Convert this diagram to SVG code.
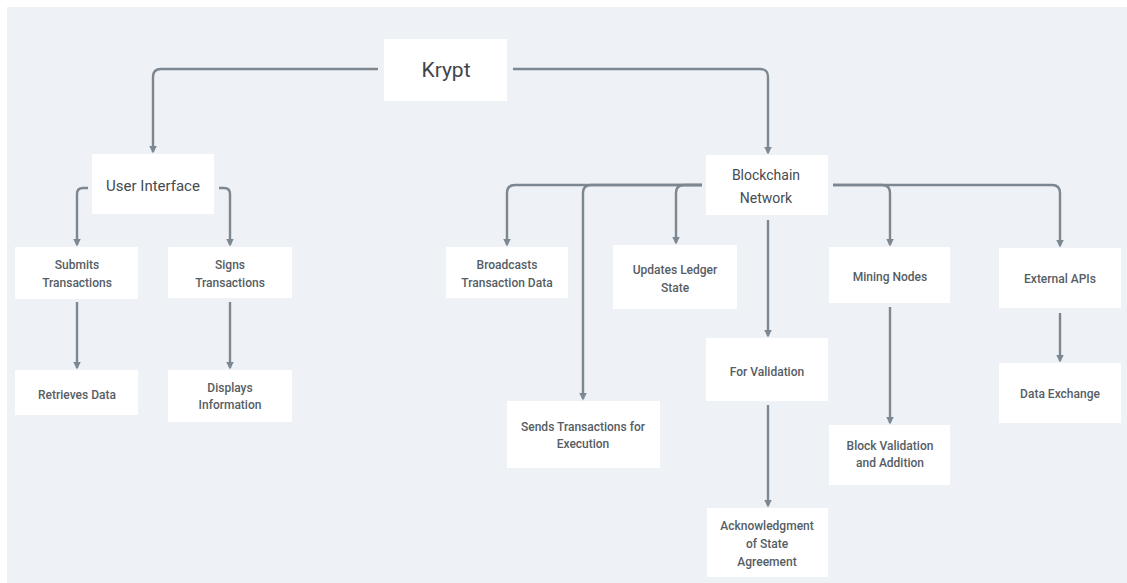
<svg xmlns="http://www.w3.org/2000/svg" width="1127" height="583" viewBox="0 0 1127 583">
<style>
.node rect{fill:#ffffff;}
.node text{font-family:Roboto,"DejaVu Sans",sans-serif;font-size:12px;font-weight:500;fill:#565d64;text-anchor:middle;}
.conn path{fill:none;stroke:#7c8791;stroke-width:2.4;marker-end:url(#ah);}
</style>
<defs>
<marker id="ah" viewBox="0 0 10 10" refX="8" refY="5" markerWidth="3.2" markerHeight="3.2" orient="auto" markerUnits="strokeWidth">
<path d="M0,0 L10,5 L0,10 z" fill="#7c8791"/>
</marker>
</defs>
<rect x="0" y="0" width="1127" height="583" fill="#ffffff"/>
<rect x="7" y="7" width="1120" height="576" fill="#eef2f6"/>
<g class="conn" id="connectors">
<path d="M378,69 H161 Q153,69 153,77 V152"/>
<path d="M513,69 H760 Q768,69 768,77 V153"/>
<path d="M88,188 H83 Q77,188 77,194 V245"/>
<path d="M219,188 H224 Q230,188 230,194 V245"/>
<path d="M77,302 V368"/>
<path d="M230,302 V368"/>
<path d="M702,185 H515 Q507,185 507,193 V245"/>
<path d="M702,185 H591 Q583,185 583,193 V399"/>
<path d="M702,185 H684 Q676,185 676,193 V243"/>
<path d="M768,220 V336"/>
<path d="M768,405 V506"/>
<path d="M833,185 H882 Q890,185 890,193 V245"/>
<path d="M833,185 H1052 Q1060,185 1060,193 V246"/>
<path d="M890,307 V423"/>
<path d="M1060,313 V361"/>
</g>
<g class="node" id="krypt"><rect x="384" y="39" width="123" height="62"/><text x="446" y="77" style="font-size:21px;font-weight:400;fill:#3f454b">Krypt</text></g>
<g class="node" id="user-interface"><rect x="92" y="154" width="122" height="60"/><text x="153" y="191" style="font-size:15px;font-weight:400;fill:#454b51">User Interface</text></g>
<g class="node" id="blockchain-network"><rect x="706" y="155" width="122" height="60"/><text x="766" y="180" style="font-size:14px;font-weight:400;fill:#454b51">Blockchain</text><text x="766" y="203" style="font-size:14px;font-weight:400;fill:#454b51">Network</text></g>
<g class="node" id="submits"><rect x="15" y="247" width="123" height="52"/><text x="77" y="269">Submits</text><text x="77" y="287">Transactions</text></g>
<g class="node" id="signs"><rect x="168" y="247" width="124" height="51"/><text x="230" y="269">Signs</text><text x="230" y="287">Transactions</text></g>
<g class="node" id="retrieves"><rect x="15" y="370" width="123" height="45"/><text x="77" y="399">Retrieves Data</text></g>
<g class="node" id="displays"><rect x="168" y="370" width="124" height="52"/><text x="230" y="392">Displays</text><text x="230" y="409">Information</text></g>
<g class="node" id="broadcasts"><rect x="446" y="247" width="122" height="51"/><text x="507" y="269">Broadcasts</text><text x="507" y="287">Transaction Data</text></g>
<g class="node" id="updates"><rect x="613" y="245" width="124" height="64"/><text x="675" y="274">Updates Ledger</text><text x="675" y="292">State</text></g>
<g class="node" id="sends"><rect x="507" y="401" width="153" height="67"/><text x="583" y="431">Sends Transactions for</text><text x="583" y="448">Execution</text></g>
<g class="node" id="for-validation"><rect x="706" y="338" width="122" height="63"/><text x="767" y="376">For Validation</text></g>
<g class="node" id="acknowledgment"><rect x="707" y="508" width="121" height="69"/><text x="767" y="530">Acknowledgment</text><text x="767" y="548">of State</text><text x="767" y="566">Agreement</text></g>
<g class="node" id="mining"><rect x="829" y="247" width="121" height="56"/><text x="890" y="281">Mining Nodes</text></g>
<g class="node" id="block-validation"><rect x="829" y="425" width="121" height="60"/><text x="890" y="450">Block Validation</text><text x="890" y="467">and Addition</text></g>
<g class="node" id="external"><rect x="999" y="248" width="122" height="60"/><text x="1060" y="283">External APIs</text></g>
<g class="node" id="data-exchange"><rect x="999" y="363" width="122" height="60"/><text x="1060" y="398">Data Exchange</text></g>
</svg>
